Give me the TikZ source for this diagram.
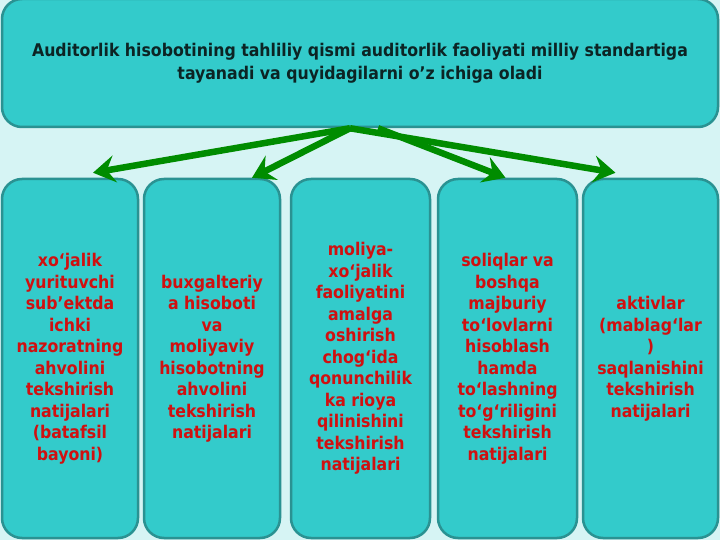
\documentclass[tikz,border=0pt]{standalone}
\usepackage{fontspec}
\usepackage{tikz}
\usetikzlibrary{arrows.meta}

\newfontfamily\boxfont{DejaVu Sans Condensed}

\definecolor{pagebg}{RGB}{214,244,244}
\definecolor{boxfill}{RGB}{51,203,203}
\definecolor{boxedge}{RGB}{42,146,146}
\definecolor{arrowgreen}{RGB}{0,140,0}
\definecolor{itemred}{RGB}{208,16,16}
\definecolor{headink}{RGB}{12,36,36}

\tikzset{
    headbox/.style={draw=boxedge, fill=boxfill, line width=2.5pt, rounded corners=20pt,
        minimum width=716pt, minimum height=128pt, align=center, text=headink,
        font={\boxfont\bfseries\fontsize{17.5}{23}\selectfont}},
    itembox/.style={draw=boxedge, fill=boxfill, line width=2.5pt, rounded corners=20pt,
        minimum height=359pt, align=center, inner sep=0pt, text=itemred,
        font={\boxfont\bfseries\fontsize{17.5}{21.5}\selectfont}},
    fanarrow/.style={arrowgreen, line width=6.5pt,
        -{Stealth[length=22pt,width=27pt,inset=8pt]}}
}

\begin{document}
\begin{tikzpicture}[x=1pt,y=-1pt]
    % Page:
    \fill [pagebg] (0,0) rectangle (720,540);
    \useasboundingbox (0,0) rectangle (720,540);

    % The heading box across the top:
    \node [headbox] (head) at (360,63)
        {Auditorlik hisobotining tahliliy qismi auditorlik faoliyati milliy standartiga\\
         tayanadi va quyidagilarni o’z ichiga oladi};

    % The five columns:
    \node [itembox, minimum width=136pt] (colA) at (70,358.5)
        {xo‘jalik\\ yurituvchi\\ sub’ektda\\ ichki\\ nazoratning\\
         ahvolini\\ tekshirish\\ natijalari\\ (batafsil\\ bayoni)};
    \node [itembox, minimum width=136pt] (colB) at (212,358.5)
        {buxgalteriy\\ a hisoboti\\ va\\ moliyaviy\\ hisobotning\\
         ahvolini\\ tekshirish\\ natijalari};
    \node [itembox, minimum width=139pt] (colC) at (360.5,358.5)
        {moliya-\\ xo‘jalik\\ faoliyatini\\ amalga\\ oshirish\\
         chog‘ida\\ qonunchilik\\ ka rioya\\ qilinishini\\ tekshirish\\
         natijalari};
    \node [itembox, minimum width=139pt] (colD) at (507.5,358.5)
        {soliqlar va\\ boshqa\\ majburiy\\ to‘lovlarni\\ hisoblash\\
         hamda\\ to‘lashning\\ to‘g‘riligini\\ tekshirish\\ natijalari};
    \node [itembox, minimum width=135pt] (colE) at (650.5,358.5)
        {aktivlar\\ (mablag‘lar\\ )\\ saqlanishini\\ tekshirish\\
         natijalari};

    % Arrows fanning out from the heading:
    \draw [fanarrow] ([xshift=-10pt]head.south) -- ([xshift=23pt,yshift=5pt]colA.north);
    \draw [fanarrow] ([xshift=-10pt]head.south) -- ([xshift=40pt]colB.north);
    \draw [fanarrow] ([xshift=18pt]head.south)  -- ([xshift=-2pt]colD.north);
    \draw [fanarrow] ([xshift=-10pt]head.south) -- ([xshift=-35pt,yshift=5pt]colE.north);
\end{tikzpicture}
\end{document}
